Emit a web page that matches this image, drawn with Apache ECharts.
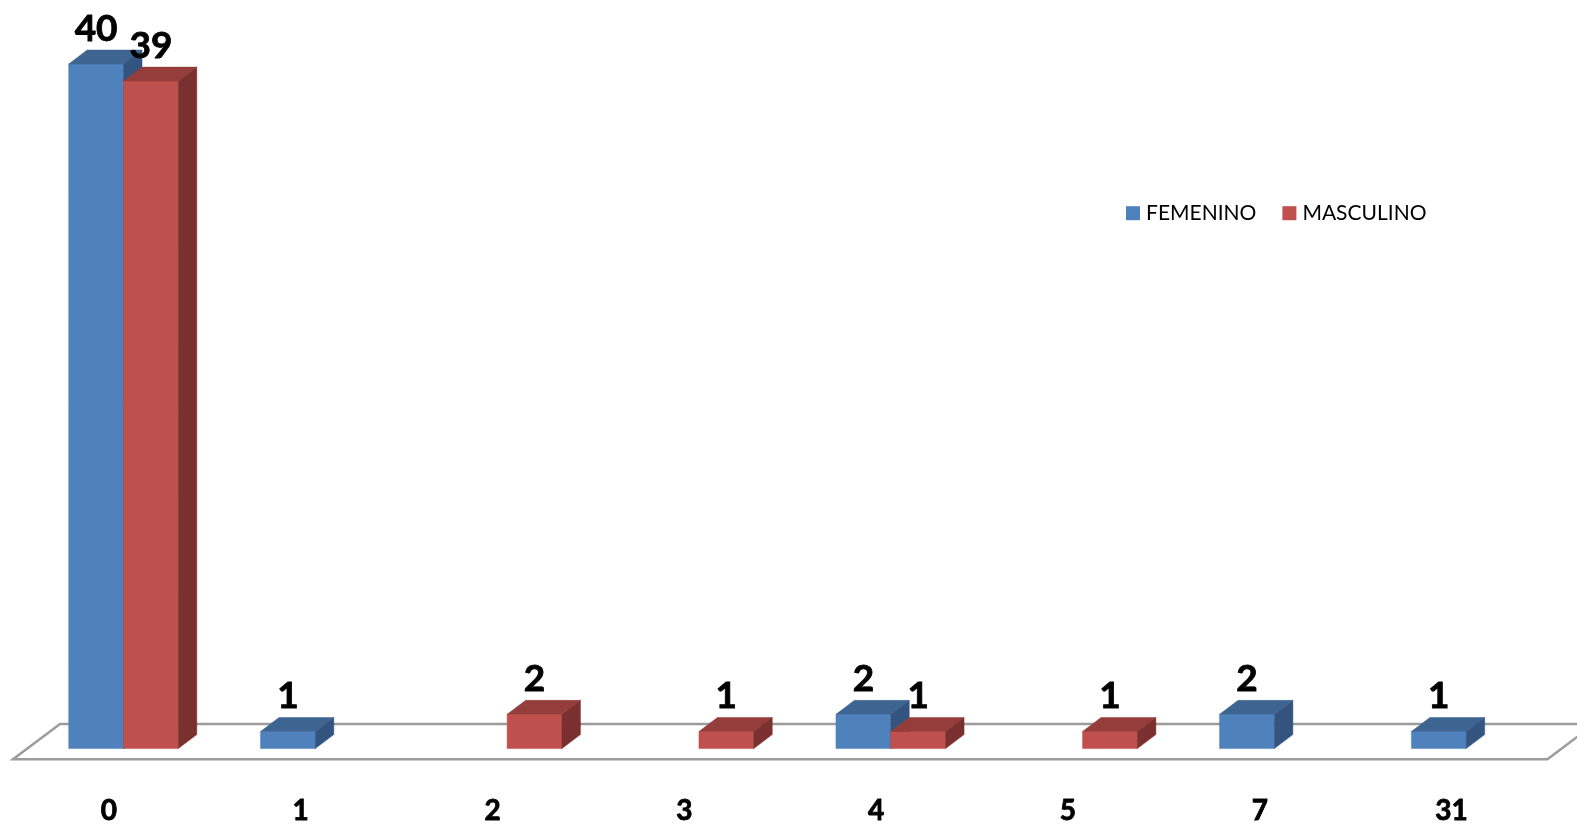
<!DOCTYPE html>
<html>
<head>
<meta charset="utf-8">
<style>html,body{margin:0;padding:0;background:#fff}#c{width:1577px;height:825px}</style>
<script src="https://cdn.jsdelivr.net/npm/echarts@6/dist/echarts.min.js"></script>
</head>
<body>
<div id="c"></div>
<script>
const categories = ['0','1','2','3','4','5','7','31'];
const femenino = [40,1,null,null,2,null,2,1];
const masculino = [39,null,2,1,1,1,null,null];

const FONT = 'Lato';
const DX = 18.5, DY = 14, BAR_W = 54.8;

function poly(points, fill) {
  return { type:'polygon', shape:{points}, style:{fill, stroke:fill, lineWidth:0.5} };
}
function barRenderer(offset, front, top, side) {
  return function (params, api) {
    const v = api.value(1);
    if (v == null || isNaN(v)) return;
    const p = api.coord([api.value(0), v]);
    const b = api.coord([api.value(0), 0]);
    const x0 = p[0] + offset, x1 = x0 + BAR_W, yt = p[1], yb = b[1];
    return { type:'group', children:[
      poly([[x0,yt],[x1,yt],[x1,yb],[x0,yb]], front),
      poly([[x0,yt],[x0+DX,yt-DY],[x1+DX,yt-DY],[x1,yt]], top),
      poly([[x1,yt],[x1+DX,yt-DY],[x1+DX,yb-DY],[x1,yb]], side),
      { type:'text', z2:50, style:{ text:String(v), x:(x0+x1)/2, y:yt-35, align:'center', verticalAlign:'middle',
        fill:'#000', stroke:'#000', lineWidth:0.8, font:'bold 37px '+FONT } }
    ]};
  };
}
function floorRenderer(params, api) {
  const c0 = api.coord([0,0]), c1 = api.coord([categories.length-1,0]);
  const half = api.size([1,0])[0]/2;
  const l = c0[0]-half, r = c1[0]+half, y = c0[1];
  return { type:'polygon', shape:{points:[[l,y+10.6],[l+47,y-24.7],[r+47,y-24.7],[r,y+10.6]]},
    style:{fill:'#fff', stroke:'#9c9c9c', lineWidth:2.5} };
}

const chart = echarts.init(document.getElementById('c'));
chart.setOption({
  animation:false,
  backgroundColor:'#fff',
  grid:{left:13, right:29.5, top:64, bottom:75.3, containLabel:false},
  legend:{ left:1126, top:202.7, padding:0, icon:'rect', itemWidth:14, itemHeight:14, itemGap:26,
    data:['FEMENINO','MASCULINO'], textStyle:{fontFamily:FONT, fontSize:21, color:'#000', padding:[0,0,0,1]} },
  xAxis:{ type:'category', data:categories, axisLine:{show:false}, axisTick:{show:false},
    axisLabel:{ fontFamily:FONT, fontWeight:'bold', fontSize:28, color:'#000', margin:48, textBorderColor:'#000', textBorderWidth:0.8 } },
  yAxis:{ type:'value', min:0, max:40, show:false, splitLine:{show:false} },
  series:[
    { type:'custom', name:'piso', silent:true, clip:false, z:1, data:[[0,0]], encode:{x:0,y:1}, renderItem:floorRenderer },
    { type:'custom', name:'FEMENINO', clip:false, z:2, itemStyle:{color:'#4F81BD'},
      data:femenino.map((v,i)=>[i,v]), encode:{x:0,y:1}, renderItem:barRenderer(-40.2,'#4F81BD','#3E6592','#345480') },
    { type:'custom', name:'MASCULINO', clip:false, z:3, itemStyle:{color:'#C0504D'},
      data:masculino.map((v,i)=>[i,v]), encode:{x:0,y:1}, renderItem:barRenderer(14.6,'#C0504D','#943D3A','#7A302E') }
  ]
});
</script>
</body>
</html>
